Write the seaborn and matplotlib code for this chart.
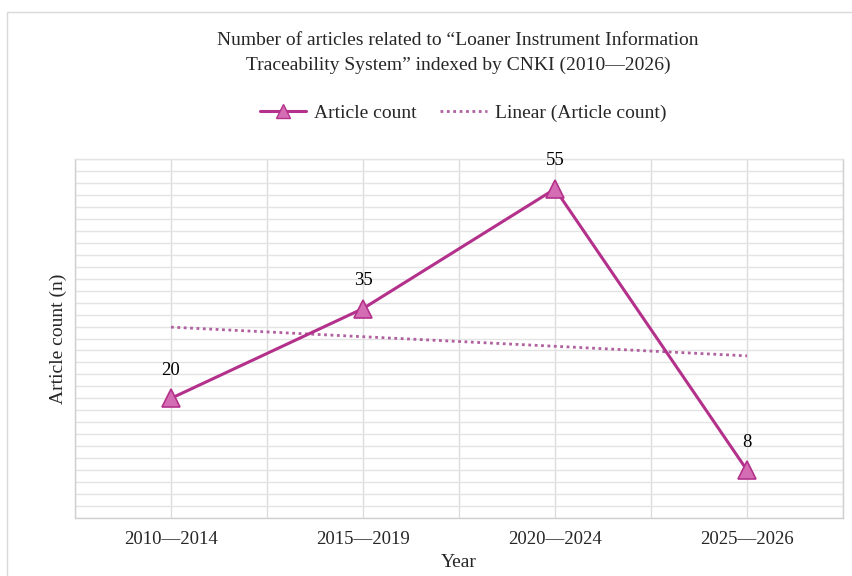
import numpy as np
import pandas as pd
import matplotlib
matplotlib.use("Agg")
import matplotlib.pyplot as plt
import seaborn as sns
from matplotlib.lines import Line2D
from matplotlib.patches import Rectangle

categories = ["2010—2014", "2015—2019", "2020—2024", "2025—2026"]
counts = [20, 35, 55, 8]

sns.set_style("white")
plt.rcParams["font.family"] = ["Liberation Serif", "DejaVu Serif"]

line_color = "#B4318B"
marker_fill = "#D56DB4"
trend_color = "#B0609E"

df = pd.DataFrame({"period": categories, "count": counts, "x": np.arange(len(categories))})

fig = plt.figure(figsize=(8.53, 5.76), dpi=100)
ax = fig.add_axes([75 / 853, 1 - 518 / 576, (843 - 75) / 853, (518 - 159) / 576])

# frame around the chart
fig.patches.append(Rectangle((7 / 853, -0.05), 1.0, 1 - 12 / 576 + 0.05, transform=fig.transFigure,
                             fill=False, edgecolor="#D9D9D9", linewidth=1.0, zorder=0))

sns.lineplot(data=df, x="x", y="count", ax=ax, color=line_color, linewidth=2.2,
             marker="^", markersize=13.5, markerfacecolor=marker_fill,
             markeredgecolor=line_color, markeredgewidth=1.2, zorder=5)

# linear trend
slope, intercept = np.polyfit(df["x"], df["count"], 1)
trend = intercept + slope * df["x"]
sns.lineplot(x=df["x"], y=trend, ax=ax, color=trend_color, linewidth=2.0,
             linestyle=(0, (1, 1.3)), zorder=4)

for xi, yi in zip(df["x"], df["count"]):
    ax.annotate(str(yi), (xi, yi), xytext=(0, 14), textcoords="offset points",
                ha="center", va="bottom", fontsize=13.5, color="black")

ax.set_xlim(-0.5, 3.5)
ax.set_ylim(0, 60)
ax.set_yticks(np.arange(0, 61, 2))
ax.set_yticklabels([])
ax.tick_params(axis="y", length=0)
ax.set_xticks(np.arange(len(categories)))
ax.set_xticklabels(categories, fontsize=13.5)
ax.tick_params(axis="x", length=0, pad=9)
ax.set_xticks(np.arange(-0.5, 3.6, 1.0), minor=True)
ax.tick_params(axis="x", which="minor", length=0)
ax.grid(True, axis="y", color="#E3E3E3", linewidth=1.0)
ax.grid(True, axis="x", which="both", color="#DCDCDC", linewidth=1.0)
ax.set_axisbelow(True)
for s in ax.spines.values():
    s.set_color("#D0D0D0")
    s.set_linewidth(1.0)
ax.spines["top"].set_color("#E3E3E3")

ax.set_xlabel("Year", fontsize=14, labelpad=5)
ax.set_ylabel("Article count (n)", fontsize=14, labelpad=2)

fig.text(458 / 853, 1 - 53 / 576,
         "Number of articles related to “Loaner Instrument Information\nTraceability System” indexed by CNKI (2010—2026)",
         ha="center", va="center", fontsize=14, linespacing=1.6)

handles = [
    Line2D([], [], color=line_color, linewidth=2.2, marker="^", markersize=10,
           markerfacecolor=marker_fill, markeredgecolor=line_color),
    Line2D([], [], color=trend_color, linewidth=2.0, linestyle=(0, (1, 1.3))),
]
fig.legend(handles, ["Article count", "Linear (Article count)"], loc="center",
           bbox_to_anchor=(463 / 853, 1 - 113 / 576), ncol=2, frameon=False,
           fontsize=14, handlelength=2.4, columnspacing=1.2, handletextpad=0.4)

fig.savefig("out.png", dpi=100, facecolor="white")
